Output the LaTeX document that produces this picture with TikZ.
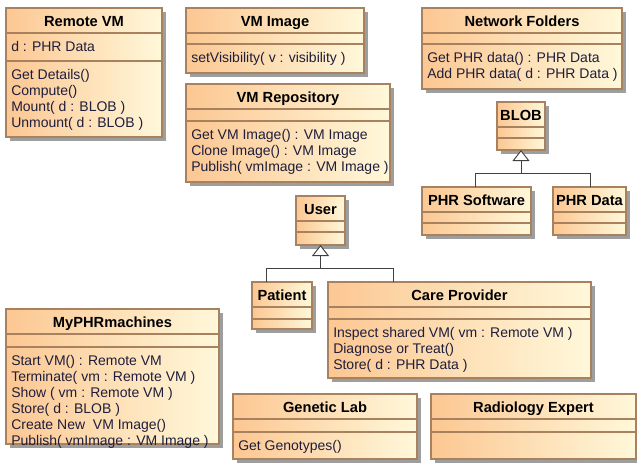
\documentclass[tikz,border=0pt]{standalone}
\usepackage{fontspec}
\setmainfont{Liberation Sans}
\usepackage{xcolor}
\usetikzlibrary{shapes,arrows,arrows.meta,positioning,calc,fit,shadows}

\definecolor{clsleft}{HTML}{FCC792}
\definecolor{clsright}{HTML}{FFF8DA}
\definecolor{clsborder}{HTML}{A8825E}
\definecolor{optext}{HTML}{1E1E3C}

% class box: name, top left, bottom right, title, attribute height, attribute, operations
\newcommand{\umlclass}[7]{%
  \node[classbox, fit={#2 #3}] (#1) {};
  \draw[classline] ($(#1.north west)+(0,25)$) -- ($(#1.north east)+(0,25)$);
  \draw[classline] ($(#1.north west)+(0,25+#5)$) -- ($(#1.north east)+(0,25+#5)$);
  \node[classtitle] (#1-title) at ($(#1.north)+(0,18.5)$) {#4};
  \node[classtext] (#1-attr) at ($(#1.north west)+(5,43.5)$) {#6};
  \node[classops] (#1-ops) at ($(#1.north west)+(5,32.3+#5)$) {\strut #7};
}

\begin{document}
\begin{tikzpicture}[x=0.75pt, y=-0.75pt, font=\fontsize{10.5}{12}\selectfont]
  \tikzstyle{classbox}=[rectangle, draw=clsborder, line width=0.9pt, inner sep=0pt, outer sep=0pt, left color=clsleft, right color=clsright, drop shadow={shadow xshift=3pt, shadow yshift=-3pt, fill=black!38, opacity=1}]
  \tikzstyle{classline}=[draw=clsborder, line width=0.9pt]
  \tikzstyle{classtitle}=[anchor=base, inner sep=0pt, font=\fontsize{11}{12}\selectfont\bfseries]
  \tikzstyle{classtext}=[anchor=base west, inner sep=0pt, text=optext]
  \tikzstyle{classops}=[anchor=north west, inner sep=0pt, align=left, text=optext]
  \tikzstyle{genline}=[draw=black!75, line width=0.7pt]
  \tikzstyle{genarrow}=[genline, -{Triangle[open, fill=white, width=12.75pt, length=8.25pt]}]

  \useasboundingbox (0,0) rectangle (637,464);

  % Top row
  \umlclass{rvm}{(6,8)}{(162,137)}{Remote VM}{28}{d : PHR Data}{Get Details()\\Compute()\\Mount( d : BLOB )\\Unmount( d : BLOB )}
  \umlclass{vmimg}{(186,8)}{(364,73)}{VM Image}{11}{}{setVisibility( v : visibility )}
  \umlclass{vmrepo}{(186,84)}{(390,182)}{VM Repository}{12}{}{Get VM Image() : VM Image\\Clone Image() : VM Image\\Publish( vmImage : VM Image )}
  \umlclass{netf}{(422,8)}{(622,89)}{Network Folders}{11}{}{Get PHR data() : PHR Data\\Add PHR data( d : PHR Data )}

  % BLOB hierarchy
  \umlclass{blob}{(497,102)}{(545,150)}{BLOB}{11}{}{}
  \umlclass{phrsw}{(422,187)}{(531,235)}{PHR Software}{11}{}{}
  \umlclass{phrdata}{(553,187)}{(626,235)}{PHR Data}{11}{}{}

  % User hierarchy
  \umlclass{user}{(296,196)}{(345,245)}{User}{11}{}{}
  \umlclass{patient}{(252,282)}{(312,329)}{Patient}{12}{}{}
  \umlclass{care}{(328,282)}{(591,378)}{Care Provider}{12}{}{Inspect shared VM( vm : Remote VM )\\Diagnose or Treat()\\Store( d : PHR Data )}

  % Bottom row
  \umlclass{myphr}{(6,309)}{(219,444)}{MyPHRmachines}{13}{}{Start VM() : Remote VM\\Terminate( vm : Remote VM )\\Show ( vm : Remote VM )\\Store( d : BLOB )\\Create New~ VM Image()\\Publish( vmImage : VM Image )}
  \umlclass{genlab}{(233,394)}{(417,459)}{Genetic Lab}{13}{}{Get Genotypes()}
  \umlclass{radio}{(431,394)}{(636,459)}{Radiology Expert}{13}{}{}

  % Generalizations
  \coordinate (blobjoin) at (521,173);
  \coordinate (userjoin) at (320.5,268);
  \draw[genarrow] (blobjoin) -- (blob.south);
  \draw[genline] ($(phrsw.north west)+(53,0)$) |- (blobjoin);
  \draw[genline] ($(phrdata.north west)+(37,0)$) |- (blobjoin);
  \draw[genarrow] (userjoin) -- (user.south);
  \draw[genline] ($(patient.north west)+(14,0)$) |- (userjoin);
  \draw[genline] ($(care.north west)+(65,0)$) |- (userjoin);
\end{tikzpicture}
\end{document}
